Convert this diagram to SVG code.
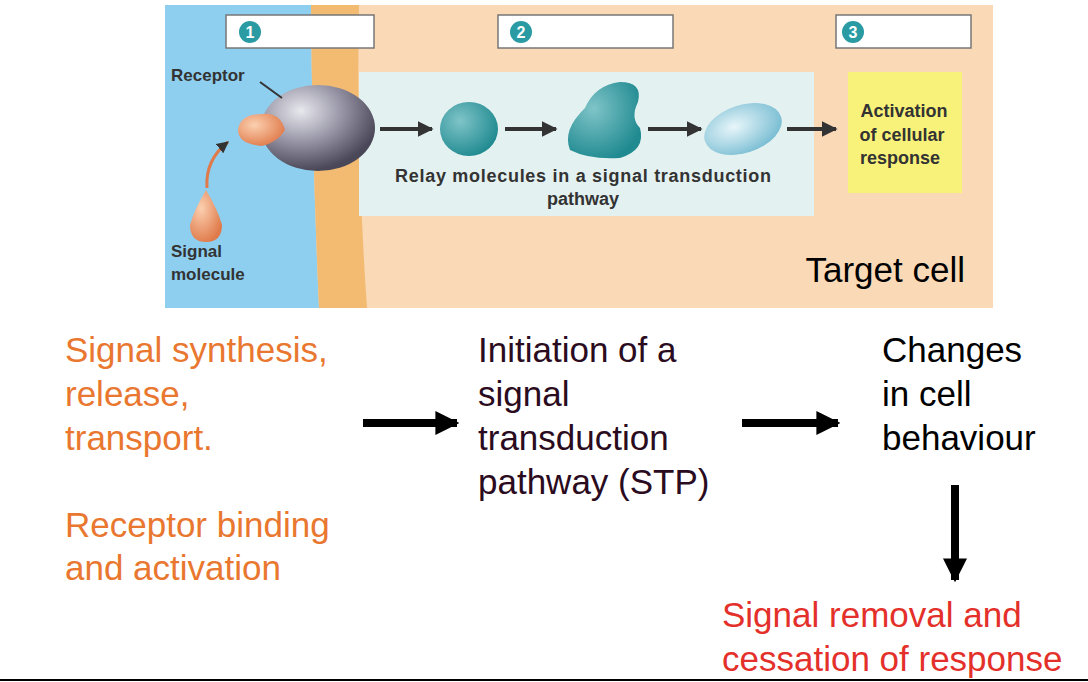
<svg xmlns="http://www.w3.org/2000/svg" width="1088" height="682" viewBox="0 0 1088 682">
<defs>
<style>
.lbl{font-family:"Liberation Sans",Arial,sans-serif;font-weight:bold;font-size:17px;fill:#333}
.big{font-family:"Liberation Sans",Arial,sans-serif;font-size:35px}
.num{font-family:"Liberation Sans",Arial,sans-serif;font-weight:bold;font-size:16px;fill:#fff}
.hdr{fill:#fff;stroke:#777;stroke-width:1.5}
</style>
<marker id="ah" viewBox="0 0 10 10" refX="9" refY="5" markerWidth="4" markerHeight="4" orient="auto"><path d="M0,0L10,5L0,10z" fill="#333"/></marker>
<marker id="bh" viewBox="0 0 10 10" refX="9" refY="5" markerWidth="3" markerHeight="3" orient="auto"><path d="M0,0L10,5L0,10z" fill="#000"/></marker>
<radialGradient id="rg" cx="0.35" cy="0.3" r="0.7"><stop offset="0" stop-color="#e8e8ee"/><stop offset="0.5" stop-color="#9a98a8"/><stop offset="1" stop-color="#4a4858"/></radialGradient>
<radialGradient id="tg" cx="0.35" cy="0.35" r="0.7"><stop offset="0" stop-color="#7fc4c8"/><stop offset="1" stop-color="#1f8a90"/></radialGradient>
<radialGradient id="lg" cx="0.4" cy="0.4" r="0.7"><stop offset="0" stop-color="#e8f6fa"/><stop offset="1" stop-color="#6fb8cf"/></radialGradient>
<radialGradient id="og" cx="0.35" cy="0.35" r="0.7"><stop offset="0" stop-color="#fbd0b0"/><stop offset="1" stop-color="#e07a4a"/></radialGradient>
</defs>
<rect width="1088" height="682" fill="#fff"/>
<g id="cell">
<rect x="165" y="5" width="828" height="303" fill="#fad9b6"/>
<path d="M165,5H311Q312,150 319,308H165z" fill="#8ecff0"/>
<path d="M311,5H359Q356,150 367,308H319Q312,150 311,5z" fill="#f3bb72"/>
<rect x="359" y="72" width="455" height="144" fill="#e4f1f1"/>
<rect x="848" y="72" width="114" height="121" fill="#f9f27a"/>
<text class="big" x="965" y="282" text-anchor="end" fill="#000">Target cell</text>
</g>
<g id="headers">
<rect class="hdr" x="226" y="15" width="148" height="33"/><circle cx="250" cy="32" r="11" fill="#2a9ba3"/><text class="num" x="250" y="38" text-anchor="middle">1</text>
<rect class="hdr" x="498" y="15" width="175" height="33"/><circle cx="521" cy="32" r="11" fill="#2a9ba3"/><text class="num" x="521" y="38" text-anchor="middle">2</text>
<rect class="hdr" x="836" y="15" width="135" height="33"/><circle cx="853" cy="32" r="11" fill="#2a9ba3"/><text class="num" x="853" y="38" text-anchor="middle">3</text>
</g>
<g id="receptor">
<ellipse cx="318" cy="128" rx="57" ry="43" fill="url(#rg)"/>
<path d="M262,114Q280,112 285,130Q278,142 262,146Q238,144 238,130Q240,114 262,114z" fill="url(#og)"/>
<line x1="260" y1="82" x2="282" y2="98" stroke="#333" stroke-width="2"/>
<text class="lbl" x="171" y="81">Receptor</text>
</g>
<g id="signal">
<path d="M206,190Q218,210 222,225Q222,242 206,242Q190,242 190,225Q194,210 206,190z" fill="url(#og)"/>
<text class="lbl" x="171" y="257">Signal</text><text class="lbl" x="171" y="280">molecule</text>
</g>
<g id="relay">
<ellipse cx="469" cy="129" rx="29" ry="27" fill="url(#tg)"/>
<path d="M585,108Q595,85 620,82Q643,82 638,102Q630,118 640,128Q646,150 620,158Q590,160 570,150Q562,130 585,108z" fill="url(#tg)"/>
<ellipse cx="743" cy="129" rx="40" ry="24" transform="rotate(-18 743 129)" fill="url(#lg)"/>
<text class="lbl" x="583" y="182" text-anchor="middle" style="font-size:18px" textLength="376">Relay molecules in a signal transduction</text>
<text class="lbl" x="583" y="205" text-anchor="middle" style="font-size:18px">pathway</text>
</g>
<g id="response"><text class="lbl" x="904" y="117" text-anchor="middle" style="font-size:18px">Activation</text><text class="lbl" x="902" y="141" text-anchor="middle" style="font-size:18px">of cellular</text><text class="lbl" x="900" y="164" text-anchor="middle" style="font-size:18px">response</text></g>
<g id="texts">
<text class="big" fill="#e9772f"><tspan x="65" y="362">Signal synthesis,</tspan><tspan x="65" y="406">release,</tspan><tspan x="65" y="450">transport.</tspan><tspan x="65" y="537">Receptor binding</tspan><tspan x="65" y="580">and activation</tspan></text>
<text class="big" fill="#2b0b20"><tspan x="478" y="362">Initiation of a</tspan><tspan x="478" y="406">signal</tspan><tspan x="478" y="450">transduction</tspan><tspan x="478" y="494">pathway (STP)</tspan></text>
<text class="big" fill="#000"><tspan x="882" y="362">Changes</tspan><tspan x="882" y="406">in cell</tspan><tspan x="882" y="450">behaviour</tspan></text>
<text class="big" fill="#e4302a"><tspan x="722" y="627">Signal removal and</tspan><tspan x="722" y="671">cessation of response</tspan></text>
</g>
<g id="connectors">
<path d="M207,188Q205,160 228,142" fill="none" stroke="#e07a4a" stroke-width="3" marker-end="url(#ah)"/>
<g stroke="#333" stroke-width="4" marker-end="url(#ah)">
<line x1="380" y1="129" x2="432" y2="129"/><line x1="505" y1="129" x2="556" y2="129"/><line x1="648" y1="129" x2="701" y2="129"/><line x1="787" y1="129" x2="836" y2="129"/>
</g>
<g stroke="#000" stroke-width="8" marker-end="url(#bh)">
<line x1="363" y1="423" x2="457" y2="423"/><line x1="742" y1="423" x2="838" y2="423"/><line x1="955" y1="485" x2="955" y2="580"/>
</g>
<line x1="0" y1="680" x2="1088" y2="680" stroke="#000" stroke-width="2"/>
</g>
</svg>
